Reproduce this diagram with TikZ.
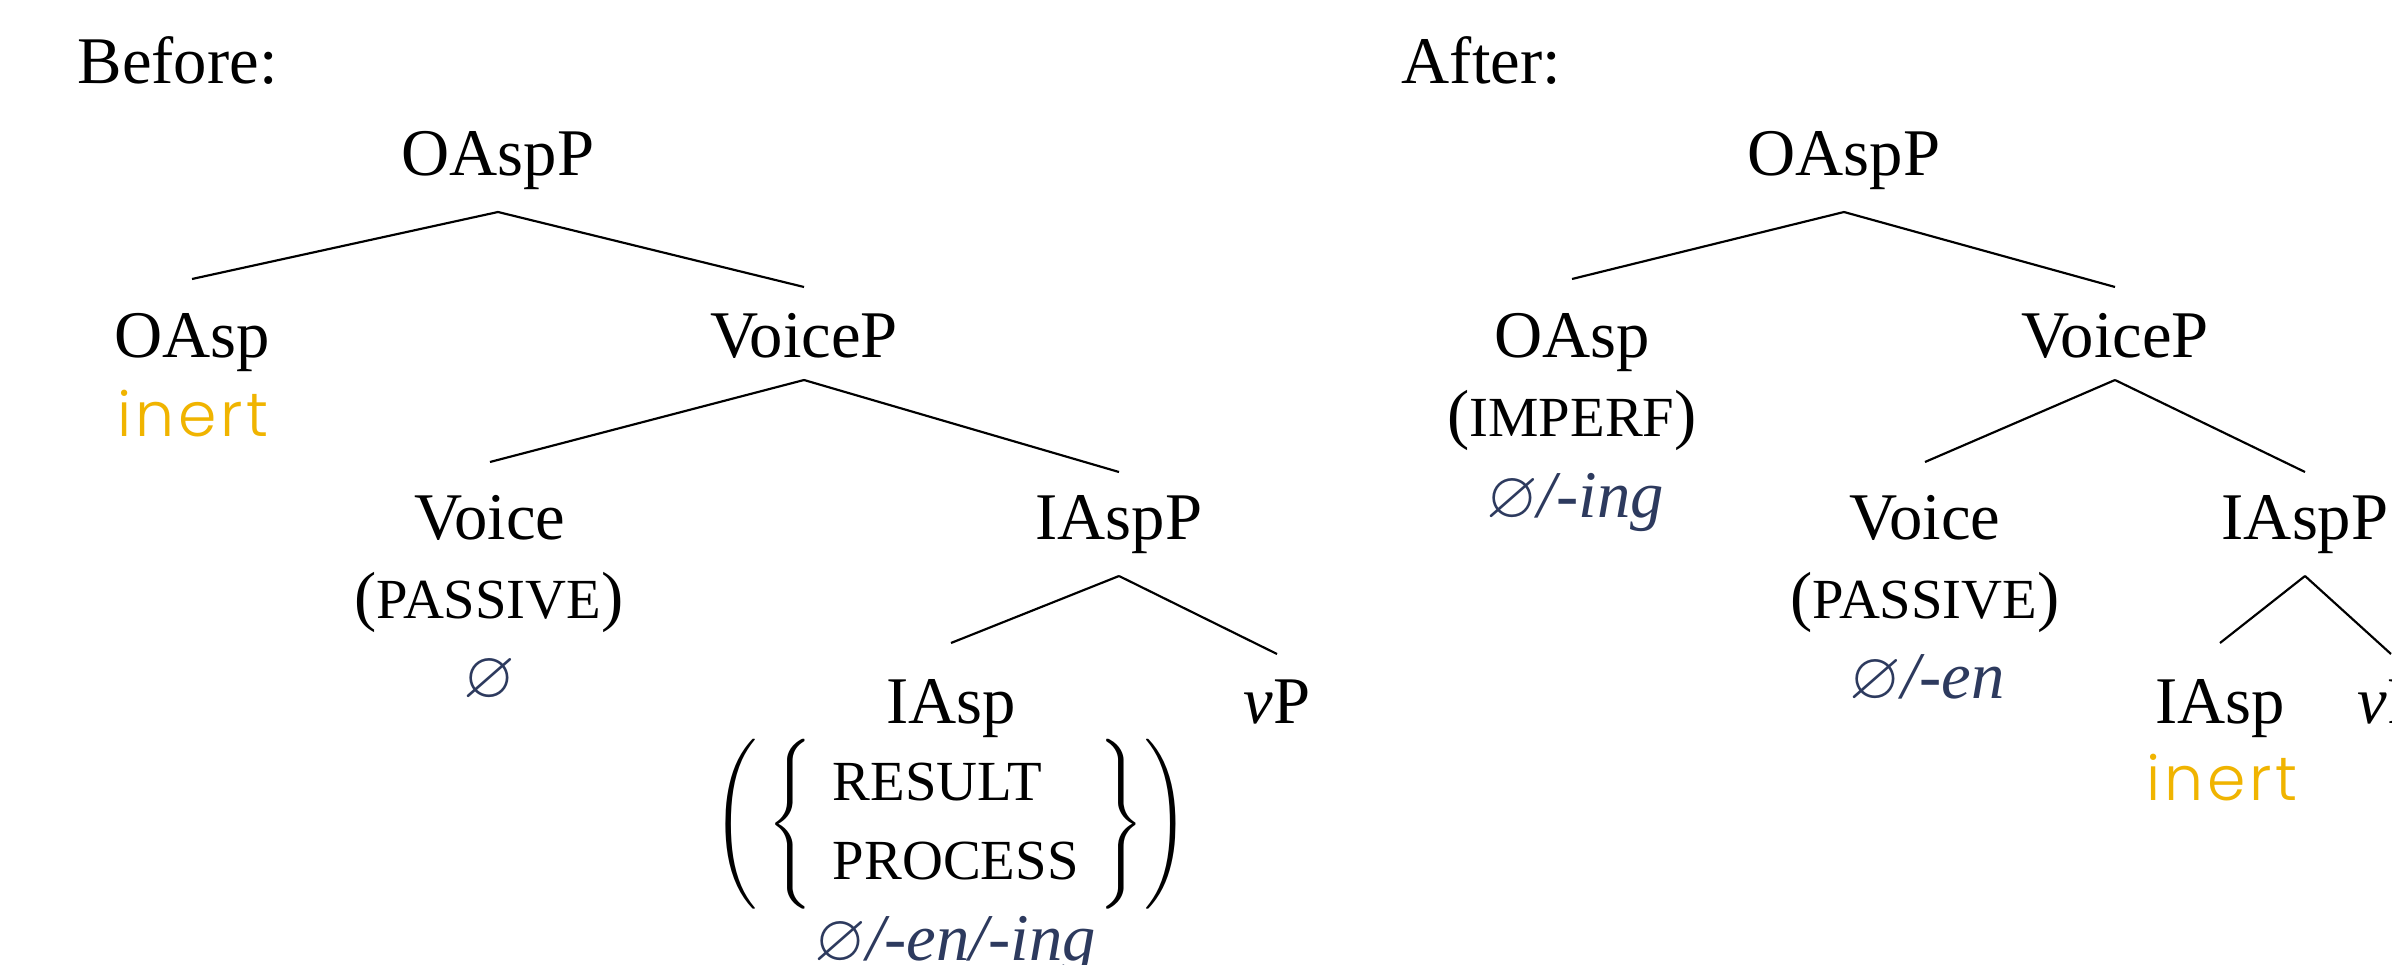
\documentclass[tikz,border=0pt]{standalone}
\usepackage{amssymb}
\usepackage{fontspec}
\setmainfont{Liberation Serif}
\IfFontExistsTF{Poppins Light}
  {\newfontfamily\inertfont[LetterSpace=6]{Poppins Light}}
  {\newfontfamily\inertfont[LetterSpace=6]{Poppins}}
\usetikzlibrary{calc}

\definecolor{inertyellow}{HTML}{F0B400}
\definecolor{exponent}{HTML}{2D3A5E}

% small capitals, faked with reduced uppercase
\newcommand\fsc[1]{{\fontsize{17}{20}\selectfont #1}}
% the yellow "inert" tag
\newcommand\inerttag{{\color{inertyellow}\inertfont\fontsize{18.5}{20}\selectfont inert}}
% exponents (navy, italic suffixes)
\newcommand\expo[1]{{\color{exponent}#1}}
% tree branch: parent, child, drop below parent baseline, rise above child baseline
\newcommand\branch[4]{\draw[edge] ($(#1.base)+(0,#3)$) -- ($(#2.base)+(0,-#4)$);}

\begin{document}
\begin{tikzpicture}[x=0.3pt,y=-0.3pt,
  every node/.style={inner sep=0pt,font=\fontsize{20}{24}\selectfont},
  lab/.style={anchor=base},
  edge/.style={line width=0.65pt}]
\clip (0,0) rectangle (2392,965);
\fill[white] (0,0) rectangle (2392,965);

% ---------- Before ----------
\node[anchor=base west] (before) at (77,84) {Before:};
\node[lab] (bTop)    at (498,176)  {OAspP};
\node[lab] (bOAsp)   at (192,358)  {OAsp};
\node[lab] (bInert)  at (193,437)  {\inerttag};
\node[lab] (bVoiceP) at (804,358)  {VoiceP};
\node[lab] (bVoice)  at (490,539)  {Voice};
\node[lab] (bVoiceF) at (489,618)  {(\fsc{PASSIVE})};
\node[lab] (bVoiceE) at (489,697)  {\expo{$\varnothing$}};
\node[lab] (bIAspP)  at (1119,540) {IAspP};
\node[lab] (bIAsp)   at (951,723)  {IAsp};
\node[lab] (bvP)     at (1277,723) {\textit{v}P};
\node (bIAspF) at (951,824) {\fontsize{17}{23.7}\selectfont
  $\left(\,\left\{\begin{tabular}{l}RESULT\\PROCESS\end{tabular}\right\}\right)$};
\node[lab] (bIAspE)  at (955,960)  {\expo{$\varnothing$\textit{/-en/-ing}}};

\branch{bTop}{bOAsp}{36}{79}
\branch{bTop}{bVoiceP}{36}{71}
\branch{bVoiceP}{bVoice}{22}{77}
\branch{bVoiceP}{bIAspP}{22}{68}
\branch{bIAspP}{bIAsp}{36}{80}
\branch{bIAspP}{bvP}{36}{69}

% ---------- After ----------
\node[anchor=base west] (after) at (1401,84) {After:};
\node[lab] (aTop)    at (1844,176) {OAspP};
\node[lab] (aOAsp)   at (1572,358) {OAsp};
\node[lab] (aOAspF)  at (1572,437) {(\fsc{IMPERF})};
\node[lab] (aOAspE)  at (1575,517) {\expo{$\varnothing$\textit{/-ing}}};
\node[lab] (aVoiceP) at (2115,358) {VoiceP};
\node[lab] (aVoice)  at (1925,539) {Voice};
\node[lab] (aVoiceF) at (1925,618) {(\fsc{PASSIVE})};
\node[lab] (aVoiceE) at (1927,698) {\expo{$\varnothing$\textit{/-en}}};
\node[lab] (aIAspP)  at (2305,540) {IAspP};
\node[lab] (aIAsp)   at (2220,723) {IAsp};
\node[lab] (aInert)  at (2222,800) {\inerttag};
\node[anchor=base west] (avP) at (2357,723) {\textit{v}P};

\branch{aTop}{aOAsp}{36}{79}
\branch{aTop}{aVoiceP}{36}{71}
\branch{aVoiceP}{aVoice}{22}{77}
\branch{aVoiceP}{aIAspP}{22}{68}
\branch{aIAspP}{aIAsp}{36}{80}
\branch{aIAspP}{avP}{36}{69}
\end{tikzpicture}
\end{document}
